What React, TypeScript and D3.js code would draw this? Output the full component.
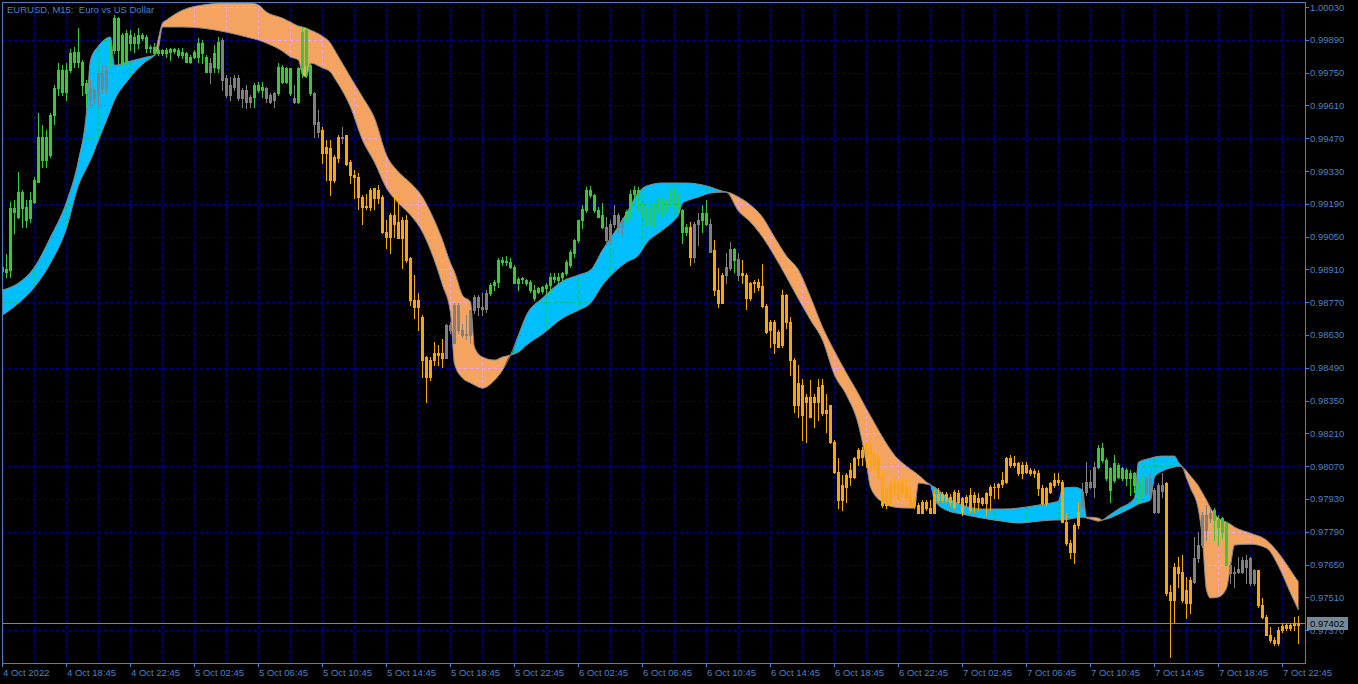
import React from "react";
import * as d3 from "d3";

// ---- EURUSD M15 candles (bar 0 = 4 Oct 2022 14:45) ----
const opens = [
  0.98905, 0.98910, 0.98907, 0.99171, 0.99135, 0.99242, 0.99178, 0.99128, 0.99199, 0.99284,
  0.99477, 0.99377, 0.99398, 0.99569, 0.99683, 0.99761, 0.99669, 0.99761, 0.99797, 0.99839,
  0.99797, 0.99704, 0.99633, 0.99676, 0.99654, 0.99747, 0.99683, 0.99783, 0.99847, 0.99982,
  0.99790, 0.99790, 0.99911, 0.99875, 0.99911, 0.99896, 0.99903, 0.99854, 0.99861, 0.99832,
  0.99847, 0.99832, 0.99840, 0.99849, 0.99847, 0.99839, 0.99832, 0.99797, 0.99818, 0.99818,
  0.99875, 0.99818, 0.99754, 0.99775, 0.99768, 0.99889, 0.99726, 0.99654, 0.99690, 0.99726,
  0.99640, 0.99676, 0.99626, 0.99647, 0.99697, 0.99676, 0.99683, 0.99654, 0.99633, 0.99662,
  0.99775, 0.99711, 0.99768, 0.99640, 0.99626, 0.99768, 0.99783, 0.99783, 0.99662, 0.99541,
  0.99505, 0.99405, 0.99427, 0.99291, 0.99384, 0.99476, 0.99483, 0.99370, 0.99313, 0.99306,
  0.99220, 0.99177, 0.99177, 0.99256, 0.99213, 0.99220, 0.99071, 0.99050, 0.99142, 0.99114,
  0.99043, 0.99121, 0.98957, 0.98779, 0.98751, 0.98708, 0.98537, 0.98452, 0.98523, 0.98551,
  0.98551, 0.98530, 0.98672, 0.98594, 0.98758, 0.98651, 0.98630, 0.98630, 0.98736, 0.98793,
  0.98751, 0.98740, 0.98808, 0.98843, 0.98857, 0.98950, 0.98940, 0.98943, 0.98921, 0.98853,
  0.98867, 0.98864, 0.98857, 0.98822, 0.98815, 0.98819, 0.98829, 0.98843, 0.98878, 0.98864,
  0.98878, 0.98893, 0.98928, 0.98978, 0.99035, 0.99120, 0.99163, 0.99248, 0.99227, 0.99163,
  0.99142, 0.99092, 0.99035, 0.99106, 0.99142, 0.99092, 0.99114, 0.99135, 0.99234, 0.99250,
  0.99170, 0.99149, 0.99113, 0.99156, 0.99156, 0.99206, 0.99199, 0.99191, 0.99227, 0.99227,
  0.99163, 0.99071, 0.99092, 0.98964, 0.99106, 0.99120, 0.99106, 0.99106, 0.98992, 0.98822,
  0.98765, 0.98886, 0.98914, 0.98999, 0.98956, 0.98886, 0.98886, 0.98786, 0.98850, 0.98857,
  0.98839, 0.98753, 0.98651, 0.98686, 0.98579, 0.98587, 0.98800, 0.98686, 0.98523, 0.98331,
  0.98416, 0.98345, 0.98366, 0.98345, 0.98345, 0.98416, 0.98295, 0.98331, 0.98174, 0.98046,
  0.97925, 0.97982, 0.98025, 0.98025, 0.98103, 0.98138, 0.98110, 0.98160, 0.98124, 0.98110,
  0.98025, 0.97904, 0.97996, 0.97975, 0.98003, 0.97961, 0.97989, 0.97953, 0.97904, 0.97904,
  0.97868, 0.97918, 0.97890, 0.97868, 0.97953, 0.97925, 0.97953, 0.97940, 0.97897, 0.97954,
  0.97932, 0.97918, 0.97882, 0.97947, 0.97918, 0.97932, 0.97911, 0.97947, 0.97982, 0.97979,
  0.97993, 0.98003, 0.98103, 0.98075, 0.98082, 0.98039, 0.98075, 0.98053, 0.98039, 0.98039,
  0.97975, 0.97911, 0.97961, 0.97989, 0.98011, 0.98003, 0.97833, 0.97740, 0.97705, 0.97818,
  0.97904, 0.97961, 0.98003, 0.97982, 0.98067, 0.98146, 0.98096, 0.98060, 0.98011, 0.98075,
  0.98018, 0.98053, 0.98018, 0.98039, 0.97989, 0.97989, 0.98018, 0.97954, 0.97968, 0.97875,
  0.97989, 0.97996, 0.97534, 0.97498, 0.97641, 0.97619, 0.97484, 0.97484, 0.97577, 0.97676,
  0.97733, 0.97861, 0.97847, 0.97882, 0.97840, 0.97790, 0.97826, 0.97648, 0.97612, 0.97619,
  0.97619, 0.97669, 0.97676, 0.97569, 0.97626, 0.97477, 0.97427, 0.97349, 0.97327, 0.97313,
  0.97370, 0.97392, 0.97380, 0.97392, 0.97390,
];

const highs = [
  0.98929, 0.98976, 0.99199, 0.99206, 0.99327, 0.99249, 0.99206, 0.99242, 0.99306, 0.99576,
  0.99526, 0.99505, 0.99576, 0.99697, 0.99790, 0.99783, 0.99790, 0.99849, 0.99861, 0.99939,
  0.99804, 0.99718, 0.99718, 0.99690, 0.99754, 0.99783, 0.99783, 0.99882, 0.99996, 0.99989,
  0.99918, 0.99932, 0.99932, 0.99918, 0.99939, 0.99918, 0.99911, 0.99868, 0.99875, 0.99854,
  0.99849, 0.99854, 0.99854, 0.99856, 0.99854, 0.99854, 0.99839, 0.99825, 0.99847, 0.99896,
  0.99889, 0.99825, 0.99811, 0.99868, 0.99903, 0.99896, 0.99740, 0.99733, 0.99740, 0.99740,
  0.99683, 0.99697, 0.99654, 0.99704, 0.99711, 0.99711, 0.99690, 0.99662, 0.99669, 0.99790,
  0.99783, 0.99775, 0.99768, 0.99697, 0.99775, 0.99939, 0.99939, 0.99790, 0.99669, 0.99590,
  0.99519, 0.99462, 0.99462, 0.99398, 0.99483, 0.99519, 0.99483, 0.99377, 0.99334, 0.99320,
  0.99227, 0.99234, 0.99256, 0.99256, 0.99270, 0.99227, 0.99121, 0.99149, 0.99213, 0.99227,
  0.99135, 0.99142, 0.98964, 0.98886, 0.98808, 0.98715, 0.98540, 0.98537, 0.98601, 0.98587,
  0.98615, 0.98679, 0.98686, 0.98765, 0.98765, 0.98679, 0.98715, 0.98736, 0.98800, 0.98800,
  0.98808, 0.98822, 0.98850, 0.98864, 0.98957, 0.98964, 0.98967, 0.98957, 0.98928, 0.98878,
  0.98878, 0.98871, 0.98864, 0.98843, 0.98836, 0.98839, 0.98850, 0.98893, 0.98893, 0.98896,
  0.98900, 0.98950, 0.98992, 0.99038, 0.99120, 0.99184, 0.99263, 0.99266, 0.99234, 0.99177,
  0.99192, 0.99135, 0.99120, 0.99184, 0.99149, 0.99128, 0.99163, 0.99248, 0.99265, 0.99263,
  0.99191, 0.99177, 0.99177, 0.99191, 0.99213, 0.99220, 0.99206, 0.99248, 0.99263, 0.99234,
  0.99170, 0.99106, 0.99113, 0.99113, 0.99149, 0.99184, 0.99206, 0.99127, 0.99035, 0.98914,
  0.98893, 0.98978, 0.99028, 0.99000, 0.98978, 0.98949, 0.98893, 0.98857, 0.98864, 0.98871,
  0.98935, 0.98764, 0.98693, 0.98693, 0.98651, 0.98822, 0.98807, 0.98708, 0.98530, 0.98501,
  0.98440, 0.98380, 0.98437, 0.98380, 0.98440, 0.98444, 0.98380, 0.98331, 0.98181, 0.98103,
  0.98032, 0.98039, 0.98082, 0.98110, 0.98146, 0.98153, 0.98174, 0.98167, 0.98131, 0.98117,
  0.98046, 0.97982, 0.98003, 0.98018, 0.98010, 0.98025, 0.98010, 0.97982, 0.97932, 0.97911,
  0.97925, 0.97925, 0.97925, 0.97968, 0.97975, 0.97960, 0.97960, 0.97950, 0.97968, 0.97968,
  0.97939, 0.97947, 0.97975, 0.97961, 0.97954, 0.97939, 0.97961, 0.97989, 0.97996, 0.97996,
  0.98046, 0.98110, 0.98117, 0.98113, 0.98089, 0.98089, 0.98089, 0.98060, 0.98056, 0.98053,
  0.97989, 0.97982, 0.98003, 0.98039, 0.98039, 0.98011, 0.97868, 0.97754, 0.97826, 0.97918,
  0.97996, 0.98089, 0.98053, 0.98089, 0.98160, 0.98167, 0.98103, 0.98067, 0.98117, 0.98082,
  0.98067, 0.98060, 0.98053, 0.98046, 0.98003, 0.98032, 0.98025, 0.98039, 0.97975, 0.97996,
  0.98039, 0.98003, 0.97562, 0.97655, 0.97683, 0.97690, 0.97598, 0.97598, 0.97769, 0.97790,
  0.97875, 0.97904, 0.97897, 0.97890, 0.97861, 0.97854, 0.97833, 0.97662, 0.97641, 0.97683,
  0.97683, 0.97690, 0.97683, 0.97633, 0.97626, 0.97505, 0.97434, 0.97384, 0.97342, 0.97384,
  0.97399, 0.97399, 0.97402, 0.97427, 0.97430,
];

const lows = [
  0.98900, 0.98879, 0.98879, 0.99064, 0.99128, 0.99092, 0.99092, 0.99114, 0.99192, 0.99284,
  0.99348, 0.99348, 0.99391, 0.99533, 0.99654, 0.99654, 0.99633, 0.99754, 0.99775, 0.99775,
  0.99654, 0.99605, 0.99605, 0.99619, 0.99605, 0.99669, 0.99669, 0.99775, 0.99832, 0.99790,
  0.99783, 0.99783, 0.99847, 0.99839, 0.99854, 0.99889, 0.99839, 0.99839, 0.99825, 0.99825,
  0.99825, 0.99818, 0.99804, 0.99835, 0.99818, 0.99811, 0.99797, 0.99790, 0.99811, 0.99797,
  0.99790, 0.99754, 0.99704, 0.99754, 0.99754, 0.99676, 0.99647, 0.99633, 0.99676, 0.99633,
  0.99605, 0.99598, 0.99605, 0.99605, 0.99669, 0.99647, 0.99626, 0.99619, 0.99605, 0.99654,
  0.99704, 0.99704, 0.99654, 0.99619, 0.99619, 0.99733, 0.99733, 0.99654, 0.99477, 0.99477,
  0.99363, 0.99292, 0.99227, 0.99284, 0.99370, 0.99448, 0.99355, 0.99277, 0.99213, 0.99170,
  0.99106, 0.99170, 0.99163, 0.99170, 0.99192, 0.99064, 0.99000, 0.98978, 0.99050, 0.99043,
  0.98914, 0.98943, 0.98758, 0.98701, 0.98651, 0.98452, 0.98345, 0.98437, 0.98501, 0.98501,
  0.98494, 0.98530, 0.98637, 0.98594, 0.98637, 0.98622, 0.98615, 0.98594, 0.98722, 0.98715,
  0.98715, 0.98729, 0.98800, 0.98822, 0.98836, 0.98928, 0.98928, 0.98914, 0.98850, 0.98822,
  0.98850, 0.98843, 0.98815, 0.98779, 0.98808, 0.98808, 0.98808, 0.98808, 0.98857, 0.98850,
  0.98864, 0.98886, 0.98921, 0.98964, 0.99028, 0.99085, 0.99156, 0.99220, 0.99156, 0.99135,
  0.99085, 0.99028, 0.99028, 0.99092, 0.99064, 0.99057, 0.99114, 0.99128, 0.99213, 0.99163,
  0.99134, 0.99106, 0.99099, 0.99092, 0.99149, 0.99134, 0.99149, 0.99184, 0.99177, 0.99149,
  0.99021, 0.99056, 0.98928, 0.98942, 0.99014, 0.99071, 0.99099, 0.98985, 0.98800, 0.98750,
  0.98765, 0.98850, 0.98907, 0.98900, 0.98864, 0.98850, 0.98743, 0.98779, 0.98815, 0.98822,
  0.98750, 0.98637, 0.98579, 0.98551, 0.98579, 0.98579, 0.98658, 0.98459, 0.98302, 0.98281,
  0.98181, 0.98174, 0.98281, 0.98238, 0.98267, 0.98288, 0.98217, 0.98167, 0.98039, 0.97890,
  0.97883, 0.97918, 0.97989, 0.98018, 0.98075, 0.98075, 0.98067, 0.98053, 0.98053, 0.98018,
  0.97897, 0.97890, 0.97904, 0.97946, 0.97925, 0.97946, 0.97932, 0.97897, 0.97890, 0.97868,
  0.97868, 0.97883, 0.97868, 0.97868, 0.97918, 0.97918, 0.97918, 0.97900, 0.97890, 0.97911,
  0.97861, 0.97904, 0.97875, 0.97875, 0.97882, 0.97904, 0.97861, 0.97882, 0.97932, 0.97932,
  0.97982, 0.97996, 0.98067, 0.98067, 0.98032, 0.98018, 0.98039, 0.98032, 0.98025, 0.97947,
  0.97908, 0.97904, 0.97954, 0.97982, 0.97989, 0.97833, 0.97733, 0.97676, 0.97655, 0.97804,
  0.97890, 0.97947, 0.97975, 0.97939, 0.98060, 0.98089, 0.98011, 0.97918, 0.98003, 0.98018,
  0.98011, 0.97989, 0.97947, 0.97961, 0.97911, 0.97939, 0.97947, 0.97932, 0.97868, 0.97868,
  0.97939, 0.97520, 0.97256, 0.97406, 0.97555, 0.97491, 0.97420, 0.97441, 0.97569, 0.97662,
  0.97726, 0.97754, 0.97833, 0.97754, 0.97733, 0.97762, 0.97648, 0.97569, 0.97555, 0.97612,
  0.97612, 0.97569, 0.97562, 0.97562, 0.97470, 0.97420, 0.97349, 0.97320, 0.97306, 0.97306,
  0.97363, 0.97370, 0.97370, 0.97370, 0.97313,
];

const closes = [
  0.98922, 0.98900, 0.99171, 0.99154, 0.99242, 0.99171, 0.99121, 0.99206, 0.99292, 0.99477,
  0.99377, 0.99477, 0.99569, 0.99683, 0.99761, 0.99669, 0.99761, 0.99832, 0.99839, 0.99797,
  0.99697, 0.99662, 0.99683, 0.99640, 0.99747, 0.99683, 0.99761, 0.99854, 0.99982, 0.99847,
  0.99911, 0.99918, 0.99875, 0.99903, 0.99875, 0.99911, 0.99854, 0.99858, 0.99832, 0.99847,
  0.99832, 0.99847, 0.99849, 0.99842, 0.99825, 0.99825, 0.99797, 0.99818, 0.99839, 0.99875,
  0.99832, 0.99754, 0.99790, 0.99832, 0.99882, 0.99718, 0.99654, 0.99697, 0.99726, 0.99640,
  0.99676, 0.99626, 0.99647, 0.99697, 0.99676, 0.99690, 0.99640, 0.99626, 0.99662, 0.99775,
  0.99711, 0.99768, 0.99662, 0.99626, 0.99768, 0.99925, 0.99932, 0.99662, 0.99533, 0.99498,
  0.99405, 0.99434, 0.99291, 0.99391, 0.99476, 0.99473, 0.99362, 0.99313, 0.99306, 0.99220,
  0.99177, 0.99180, 0.99248, 0.99213, 0.99248, 0.99071, 0.99050, 0.99142, 0.99106, 0.99043,
  0.99121, 0.98950, 0.98779, 0.98751, 0.98779, 0.98523, 0.98452, 0.98523, 0.98551, 0.98545,
  0.98530, 0.98672, 0.98650, 0.98758, 0.98651, 0.98630, 0.98634, 0.98736, 0.98793, 0.98751,
  0.98740, 0.98808, 0.98843, 0.98857, 0.98950, 0.98940, 0.98947, 0.98921, 0.98853, 0.98867,
  0.98872, 0.98850, 0.98822, 0.98786, 0.98829, 0.98833, 0.98843, 0.98878, 0.98871, 0.98878,
  0.98893, 0.98943, 0.98985, 0.99035, 0.99120, 0.99170, 0.99248, 0.99227, 0.99163, 0.99135,
  0.99092, 0.99035, 0.99106, 0.99142, 0.99092, 0.99120, 0.99156, 0.99234, 0.99250, 0.99170,
  0.99149, 0.99113, 0.99156, 0.99127, 0.99206, 0.99177, 0.99156, 0.99227, 0.99199, 0.99156,
  0.99071, 0.99092, 0.98964, 0.99106, 0.99120, 0.99149, 0.99149, 0.98985, 0.98822, 0.98765,
  0.98886, 0.98921, 0.98999, 0.98949, 0.98886, 0.98893, 0.98786, 0.98850, 0.98857, 0.98836,
  0.98753, 0.98644, 0.98686, 0.98594, 0.98644, 0.98800, 0.98686, 0.98523, 0.98331, 0.98423,
  0.98288, 0.98366, 0.98281, 0.98366, 0.98409, 0.98295, 0.98309, 0.98174, 0.98046, 0.97925,
  0.97989, 0.98032, 0.98053, 0.98103, 0.98138, 0.98110, 0.98167, 0.98124, 0.98060, 0.98025,
  0.97904, 0.97975, 0.97925, 0.97989, 0.97932, 0.97996, 0.97939, 0.97904, 0.97925, 0.97868,
  0.97918, 0.97890, 0.97868, 0.97953, 0.97925, 0.97953, 0.97925, 0.97915, 0.97961, 0.97918,
  0.97875, 0.97939, 0.97947, 0.97918, 0.97932, 0.97911, 0.97954, 0.97982, 0.97980, 0.97993,
  0.98011, 0.98103, 0.98075, 0.98082, 0.98039, 0.98075, 0.98046, 0.98039, 0.98050, 0.97975,
  0.97911, 0.97975, 0.97996, 0.98011, 0.98003, 0.97833, 0.97740, 0.97705, 0.97818, 0.97875,
  0.97961, 0.98003, 0.97982, 0.98067, 0.98146, 0.98096, 0.98018, 0.97968, 0.98082, 0.98025,
  0.98060, 0.98018, 0.98039, 0.97989, 0.97954, 0.98025, 0.97954, 0.98018, 0.97875, 0.97989,
  0.97965, 0.97527, 0.97498, 0.97641, 0.97612, 0.97498, 0.97541, 0.97584, 0.97676, 0.97733,
  0.97861, 0.97797, 0.97868, 0.97840, 0.97811, 0.97847, 0.97648, 0.97612, 0.97618, 0.97633,
  0.97669, 0.97641, 0.97569, 0.97626, 0.97477, 0.97427, 0.97349, 0.97327, 0.97313, 0.97370,
  0.97387, 0.97380, 0.97392, 0.97399, 0.97402,
];

// candle colouring state, run-length: up = green, down = orange, flat = gray
const trendRuns: [string, number][] = [
  ["up", 22], ["flat", 5], ["up", 25], ["flat", 1], ["up", 2], ["flat", 8], ["up", 3],
  ["flat", 3], ["up", 4], ["flat", 1], ["up", 4], ["flat", 2], ["down", 5], ["flat", 1],
  ["down", 25], ["flat", 11], ["up", 29], ["flat", 5], ["up", 16], ["down", 1], ["flat", 2],
  ["up", 2], ["flat", 1], ["down", 3], ["flat", 2], ["up", 1], ["flat", 1], ["down", 85],
  ["flat", 4], ["up", 12], ["flat", 5], ["down", 7], ["flat", 5], ["up", 4], ["flat", 7],
  ["down", 11],
];

// ---- cloud indicator: fast and slow lines, sampled at these bars ----
const bandBars = [
  0, 4, 8, 12, 16, 19, 21, 22, 24, 27, 28, 31, 34, 36, 38,
  39, 40, 41, 45, 50, 56, 62, 64, 66, 70, 72, 74, 75, 76, 77, 80, 82, 83, 87, 90, 93, 96, 99,
  102, 105, 107, 110, 112, 113, 115, 117, 118, 120, 123, 125, 127,
  129, 131, 135, 140, 144, 147, 150, 153, 156, 159, 161, 165, 168, 169, 170, 171, 174, 177, 180, 181,
  184, 187, 190, 193, 196, 199, 202, 205, 208, 211, 214, 216, 217, 220, 223, 226, 228, 229, 231, 232,
  233, 236, 240, 245, 250, 254, 259, 263, 264, 265, 268, 270, 271, 272, 274, 275,
  276, 279, 283, 284, 287, 288, 290, 293, 294, 295,
  296, 297, 299, 300, 301, 302, 304, 306, 307, 308, 312, 316, 319, 322, 324,
];
const bandFast = [
  0.98822, 0.98852, 0.98920, 0.99048, 0.99198, 0.99377, 0.99582, 0.99804, 0.99864, 0.99902, 0.99782, 0.99795, 0.99808, 0.99817, 0.99825,
  0.99855, 0.99945, 0.99945, 0.99945, 0.99940, 0.99923, 0.99898, 0.99889, 0.99876, 0.99842, 0.99817, 0.99804, 0.99740, 0.99731, 0.99791, 0.99770, 0.99753, 0.99727, 0.99603, 0.99462, 0.99368, 0.99257, 0.99193,
  0.99142, 0.99069, 0.98993, 0.98843, 0.98724, 0.98506, 0.98446, 0.98425, 0.98416, 0.98403, 0.98437, 0.98480, 0.98544,
  0.98630, 0.98715, 0.98788, 0.98860, 0.98886, 0.98907, 0.98993, 0.99069, 0.99150, 0.99240, 0.99266, 0.99279, 0.99279, 0.99279, 0.99279, 0.99279, 0.99274, 0.99262, 0.99244, 0.99240,
  0.99159, 0.99112, 0.99048, 0.98967, 0.98877, 0.98783, 0.98694, 0.98608, 0.98459, 0.98373, 0.98245, 0.98079, 0.97980, 0.97916, 0.97895, 0.97891, 0.97891, 0.97998, 0.97993, 0.97989,
  0.97981, 0.97938, 0.97904, 0.97887, 0.97887, 0.97891, 0.97904, 0.97916, 0.97921, 0.97976, 0.97980, 0.97968, 0.97848, 0.97844, 0.97835, 0.97840,
  0.97852, 0.97887, 0.97934, 0.98087, 0.98104, 0.98109, 0.98113, 0.98113, 0.98087, 0.98066,
  0.98019, 0.97976, 0.97882, 0.97754, 0.97541, 0.97507, 0.97511, 0.97549, 0.97643, 0.97733, 0.97737, 0.97720, 0.97643, 0.97528, 0.97455,
];
const bandSlow = [
  0.98715, 0.98766, 0.98835, 0.98937, 0.99086, 0.99270, 0.99343, 0.99377, 0.99462, 0.99590, 0.99633, 0.99710, 0.99770, 0.99800, 0.99825,
  0.99898, 0.99962, 0.99975, 1.00017, 1.00039, 1.00047, 1.00047, 1.00039, 1.00009, 0.99983, 0.99966, 0.99949, 0.99945, 0.99940, 0.99932, 0.99906, 0.99876, 0.99847, 0.99731, 0.99646, 0.99556, 0.99398, 0.99326,
  0.99279, 0.99219, 0.99155, 0.99035, 0.98937, 0.98899, 0.98800, 0.98771, 0.98578, 0.98536, 0.98523, 0.98536, 0.98544,
  0.98557, 0.98587, 0.98634, 0.98702, 0.98736, 0.98766, 0.98843, 0.98899, 0.98941, 0.98971, 0.99022, 0.99078, 0.99121, 0.99142, 0.99193, 0.99202, 0.99219, 0.99236, 0.99240, 0.99240,
  0.99219, 0.99185, 0.99133, 0.99048, 0.98967, 0.98907, 0.98792, 0.98664, 0.98561, 0.98467, 0.98378, 0.98314, 0.98284, 0.98194, 0.98117, 0.98070, 0.98045, 0.98032, 0.98002, 0.97989,
  0.97925, 0.97882, 0.97865, 0.97848, 0.97835, 0.97827, 0.97835, 0.97840, 0.97840, 0.97840, 0.97848, 0.97852, 0.97852, 0.97852, 0.97848, 0.97840,
  0.97844, 0.97865, 0.97899, 0.97908, 0.97925, 0.98023, 0.98049, 0.98066, 0.98070, 0.98066,
  0.98049, 0.98028, 0.97985, 0.97955, 0.97925, 0.97891, 0.97848, 0.97831, 0.97822, 0.97810, 0.97784, 0.97754, 0.97699, 0.97626, 0.97575,
];

// ---- axes ----
const priceTicks = [
  1.0003, 0.9989, 0.9975, 0.9961, 0.9947, 0.9933, 0.9919, 0.9905, 0.9891, 0.9877,
  0.9863, 0.9849, 0.9835, 0.9821, 0.9807, 0.9793, 0.9779, 0.9765, 0.9751, 0.9737,
];
const timeLabelBars = [0, 16, 32, 48, 64, 80, 96, 112, 128, 144, 160, 176, 192, 208, 224, 240, 256, 272, 288, 304, 320];
const timeLabels = [
  "4 Oct 2022", "4 Oct 18:45", "4 Oct 22:45", "5 Oct 02:45", "5 Oct 06:45", "5 Oct 10:45",
  "5 Oct 14:45", "5 Oct 18:45", "5 Oct 22:45", "6 Oct 02:45", "6 Oct 06:45", "6 Oct 10:45",
  "6 Oct 14:45", "6 Oct 18:45", "6 Oct 22:45", "7 Oct 02:45", "7 Oct 06:45", "7 Oct 10:45",
  "7 Oct 14:45", "7 Oct 18:45", "7 Oct 22:45",
];
const lastPrice = 0.97402;
const chartTitle = "EURUSD, M15:  Euro vs US Dollar";

const COLORS: Record<string, string> = { up: "#32CD32", down: "#FFA500", flat: "#808080" };
const AXIS = "#4A82C4";
const GRID = "#000080";
const FONT = "'Liberation Sans', Arial, sans-serif";

export default function App() {
  const W = 1358, H = 684;
  const L = 2, R = 1305, T = 2, B = 663;
  const n = closes.length;
  const x = d3.scaleLinear().domain([0, n - 1]).range([2.5, 2.5 + 4 * (n - 1)]);
  const y = d3.scaleLinear().domain([0.9737, 1.0003]).range([630.1, 7.1]);
  const snap = (v: number) => Math.round(v) + 0.5;

  const trend: string[] = trendRuns.flatMap(([t, k]) => Array(k).fill(t));
  const band = bandBars.map((b, i) => ({ b, f: bandFast[i], s: bandSlow[i] }));
  const curve = d3.curveMonotoneX;
  const blueArea = d3.area<any>().x((d) => x(d.b)).y0((d) => y(d.s)).y1((d) => y(Math.max(d.f, d.s))).curve(curve)(band) || "";
  const orangeArea = d3.area<any>().x((d) => x(d.b)).y0((d) => y(d.s)).y1((d) => y(Math.min(d.f, d.s))).curve(curve)(band) || "";
  const fastLine = d3.line<any>().x((d) => x(d.b)).y((d) => y(d.f)).curve(curve)(band) || "";
  const slowLine = d3.line<any>().x((d) => x(d.b)).y((d) => y(d.s)).curve(curve)(band) || "";

  const vGrid = d3.range(8, n, 8);
  const grid = (color: string) => (
    <g stroke={color} strokeWidth={1} strokeDasharray="3,3" shapeRendering="crispEdges">
      {priceTicks.map((p) => (
        <line key={"h" + p} x1={L} x2={R} y1={snap(y(p))} y2={snap(y(p))} />
      ))}
      {vGrid.map((b) => (
        <line key={"v" + b} x1={x(b)} x2={x(b)} y1={T} y2={B} />
      ))}
    </g>
  );

  const lastY = snap(y(lastPrice));

  return (
    <svg width={W} height={H} style={{ position: "absolute", left: 0, top: 0, display: "block", background: "#000" }}>
      <defs>
        <clipPath id="plot"><rect x={L} y={T} width={R - L} height={B - T} /></clipPath>
        <clipPath id="cBlue"><path d={blueArea} /></clipPath>
        <clipPath id="cOrange"><path d={orangeArea} /></clipPath>
      </defs>
      <rect x={0} y={0} width={W} height={H} fill="#000" />
      <g clipPath="url(#plot)">
        {grid(GRID)}
        <path d={blueArea} fill="#00BFFF" />
        <path d={orangeArea} fill="#F4A460" />
        <g clipPath="url(#cBlue)">{grid("#00BF7F")}</g>
        <g clipPath="url(#cOrange)">{grid("#F4A4E0")}</g>
        <path d={fastLine} fill="none" stroke="#8a8a8a" strokeWidth={1} />
        <path d={slowLine} fill="none" stroke="#8a8a8a" strokeWidth={1} />
        <line x1={L} x2={R} y1={lastY} y2={lastY} stroke="#778899" strokeWidth={1} shapeRendering="crispEdges" />
        <g shapeRendering="crispEdges">
          {closes.map((c, i) => {
            const o = opens[i];
            const col = COLORS[trend[i]] || "#808080";
            const yh = Math.round(y(highs[i]));
            const yl = Math.round(y(lows[i]));
            const yt = Math.round(y(Math.max(o, c)));
            const yb = Math.round(y(Math.min(o, c)));
            const cx = x(i);
            return (
              <g key={i} fill={col}>
                <rect x={Math.round(cx - 0.5)} y={yh} width={1} height={yl - yh + 1} />
                <rect x={Math.round(cx - 1.5)} y={yt} width={3} height={Math.max(1, yb - yt + 1)} />
              </g>
            );
          })}
        </g>
      </g>
      {/* frame and axes */}
      <g stroke={AXIS} strokeWidth={1} fill="none" shapeRendering="crispEdges">
        <rect x={L + 0.5} y={T + 0.5} width={R - L} height={B - T} />
        {priceTicks.map((p) => (
          <line key={"t" + p} x1={R} x2={R + 4} y1={snap(y(p))} y2={snap(y(p))} />
        ))}
        {timeLabelBars.map((b) => (
          <line key={"tt" + b} x1={x(b)} x2={x(b)} y1={B} y2={B + 4} />
        ))}
      </g>
      <g fill={AXIS} fontFamily={FONT} fontSize={9.5}>
        {priceTicks.map((p) => (
          <text key={"pl" + p} x={R + 5} y={y(p) + 3.5}>{p.toFixed(5)}</text>
        ))}
        {timeLabelBars.map((b, i) => (
          <text key={"tl" + b} x={x(b) + 0.5} y={676}>{timeLabels[i]}</text>
        ))}
        <text x={7} y={13} style={{ whiteSpace: "pre" }}>{chartTitle}</text>
      </g>
      <rect x={R + 2} y={lastY - 6.5} width={41} height={13} fill="#778899" />
      <text x={R + 5} y={lastY + 3.5} fill="#000" fontFamily={FONT} fontSize={9.5}>{lastPrice.toFixed(5)}</text>
    </svg>
  );
}
